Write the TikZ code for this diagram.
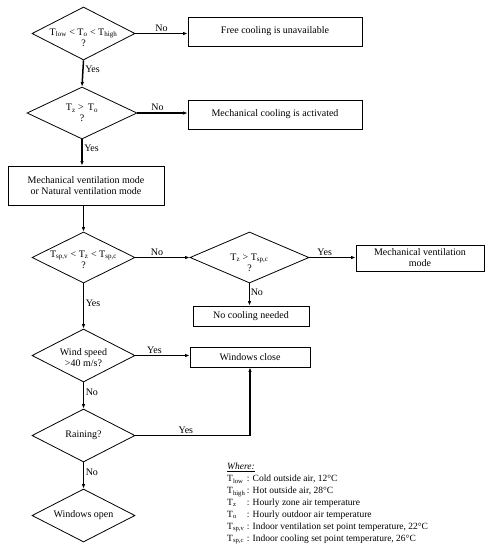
\documentclass[tikz,border=0pt]{standalone}
\usepackage{fontspec}
\setmainfont{Liberation Serif}
\usetikzlibrary{arrows.meta,shapes.geometric}

\begin{document}
\begin{tikzpicture}[x=1pt, y=-1pt,
    every node/.style={font=\fontsize{10}{11}\selectfont, inner sep=1.5pt},
    decision/.style={draw, diamond, line width=0.8pt, inner sep=0pt, minimum width=103pt, minimum height=53pt},
    process/.style={draw, rectangle, line width=0.8pt, inner sep=0pt, align=center, minimum width=174pt, minimum height=29pt},
    flow/.style={line width=1.5pt, -{Latex[length=4.5pt,width=3.5pt]}},
    asklabel/.style={align=center}]
  \useasboundingbox (0,0) rectangle (491,550);

  % decisions
  \node[decision] (d1) at (83.5,33.5) {};
  \node[decision, minimum width=110pt, minimum height=52pt] (d2) at (82,113) {};
  \node[decision, minimum height=51pt] (d3) at (83.5,257.5) {};
  \node[decision, minimum width=119pt, minimum height=51pt] (d4) at (249.5,257.5) {};
  \node[decision] (d5) at (83.5,355.5) {};
  \node[decision] (d6) at (83.5,435.5) {};
  \node[decision] (d7) at (83.5,515.5) {};

  \node[asklabel] (d1txt) at ([yshift=-4pt]d1.center) {T\textsubscript{low} < T\textsubscript{o} < T\textsubscript{high}\\?};
  \node[asklabel] (d2txt) at (d2) {T\textsubscript{z} > \,T\textsubscript{o}\\?};
  \node[asklabel] (d3txt) at ([yshift=-2pt]d3.center) {T\textsubscript{sp,v} < T\textsubscript{z} < T\textsubscript{sp,c}\\?};
  \node[asklabel] (d4txt) at ([yshift=-5pt]d4.center) {T\textsubscript{z} > T\textsubscript{sp,c}\\?};
  \node[asklabel] (d5txt) at ([yshift=-2pt]d5.center) {Wind speed\\>40 m/s?};
  \node (d6txt) at (d6) {Raining?};
  \node (d7txt) at (d7) {Windows open};

  % actions
  \node[process] (b1) at (275,31.5) {Free cooling is unavailable};
  \node[process] (b2) at (275,114.5) {Mechanical cooling is activated};
  \node[process, minimum width=156pt, minimum height=39pt] (b3) at (86,185.5) {Mechanical ventilation mode\\or Natural ventilation mode};
  \node[process, minimum width=128pt, minimum height=26pt] (b4) at (420,258) {Mechanical ventilation\\mode};
  \node[process, minimum width=116pt, minimum height=20pt] (b5) at (251,316) {No cooling needed};
  \node[process, minimum width=120pt, minimum height=20pt] (b6) at (250,357) {Windows close};

  % connectors
  \draw[flow] (d1.east) -- node[above, pos=0.5] {No} (d1.east -| b1.west);
  \draw[flow] (d1.south) -- node[right, pos=0.33] {Yes} (d2.north);
  \draw[flow] (d2.east) -- node[above, pos=0.4] {No} (d2.east -| b2.west);
  \draw[flow] (d2.south) -- node[right, pos=0.33] {Yes} (d2.south |- b3.north);
  \draw[flow] (d3.north |- b3.south) -- (d3.north);
  \draw[flow] (d3.east) -- node[above, pos=0.4] {No} (d4.west);
  \draw[flow] (d4.east) -- node[above, pos=0.33] {Yes} (d4.east -| b4.west);
  \draw[flow] (d4.south) -- node[right, pos=0.4, inner sep=0.5pt] {No} (d4.south |- b5.north);
  \draw[flow] (d3.south) -- node[right, pos=0.43] {Yes} (d5.north);
  \draw[flow] (d5.east) -- node[above, pos=0.35] {Yes} (d5.east -| b6.west);
  \draw[flow] (d5.south) -- node[right, pos=0.37] {No} (d6.north);
  \draw[flow] (d6.east) -| node[above, pos=0.22] {Yes} (b6.south);
  \draw[flow] (d6.south) -- node[right, pos=0.37] {No} (d7.north);

  % legend
  \node[anchor=north west, font=\fontsize{9.5}{12}\selectfont, inner sep=0pt] (legend) at (227,461) {%
    \begin{tabular}{@{}l@{\,}l@{}}
      \multicolumn{2}{@{}l}{\underline{\itshape Where:}}\\
      T\textsubscript{low} & : Cold outside air, 12°C\\
      T\textsubscript{high} & : Hot outside air, 28°C\\
      T\textsubscript{z} & : Hourly zone air temperature\\
      T\textsubscript{o} & : Hourly outdoor air temperature\\
      T\textsubscript{sp,v} & : Indoor ventilation set point temperature, 22°C\\
      T\textsubscript{sp,c} & : Indoor cooling set point temperature, 26°C
    \end{tabular}};
\end{tikzpicture}
\end{document}
